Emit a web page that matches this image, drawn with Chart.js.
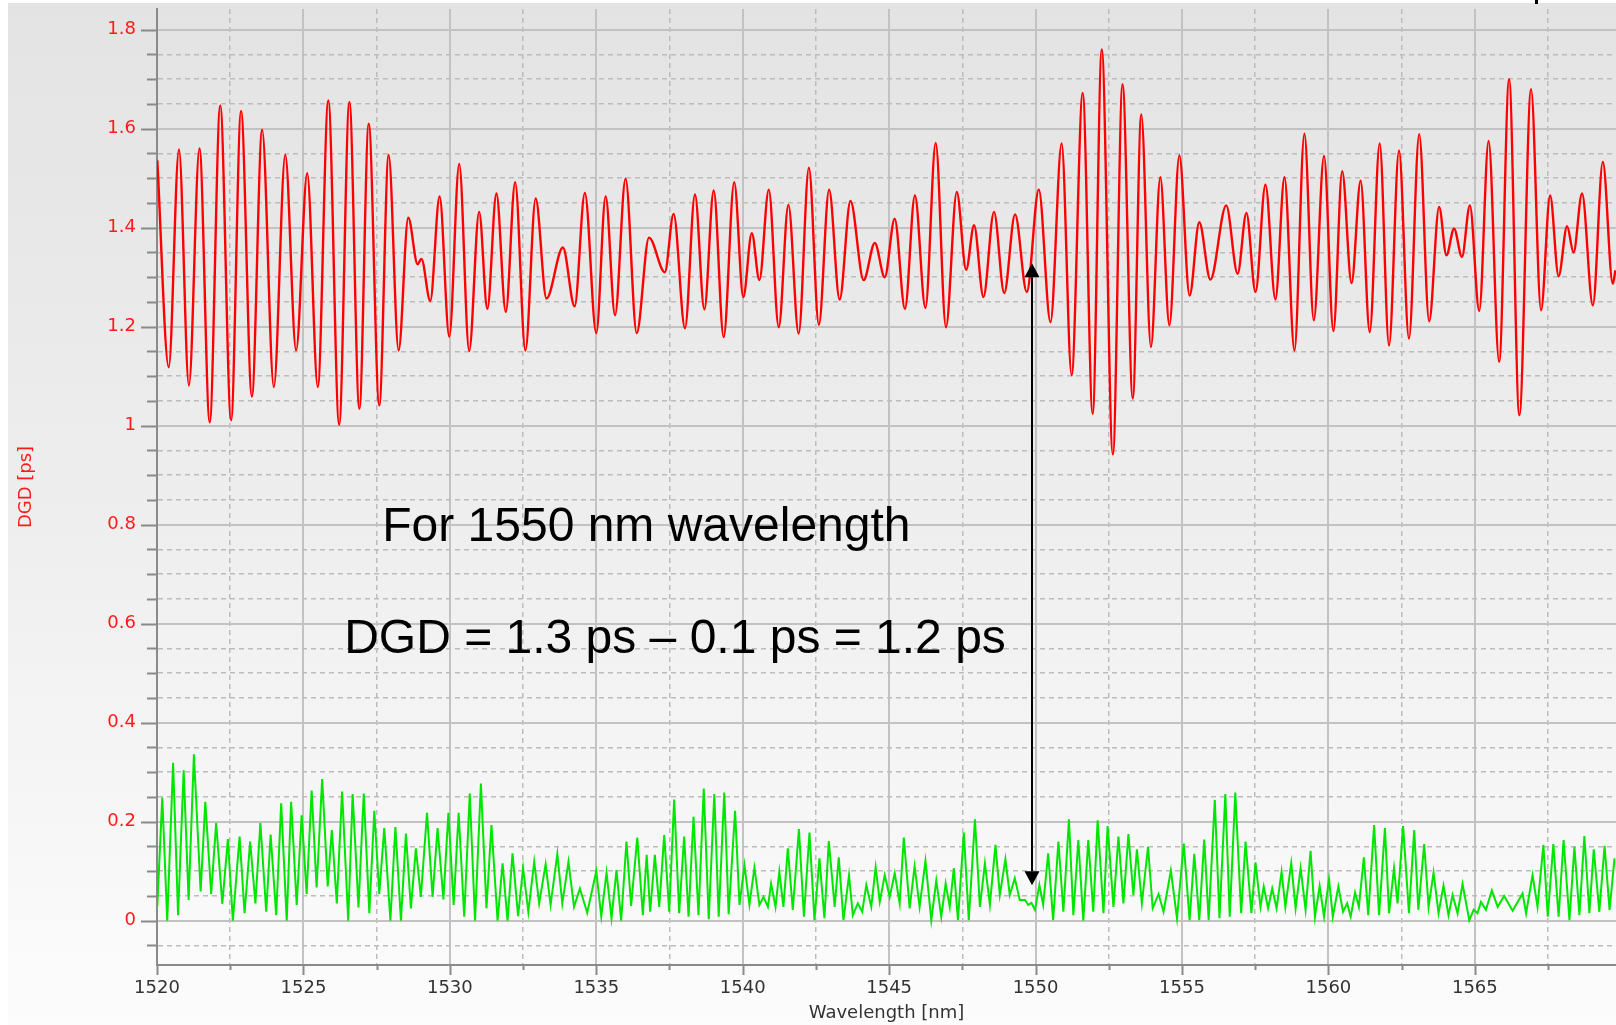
<!DOCTYPE html>
<html>
<head>
<meta charset="utf-8">
<title>DGD vs wavelength</title>
<script src="https://cdn.jsdelivr.net/npm/chart.js@4.4.0/dist/chart.umd.min.js"></script>
<style>
  body { margin: 0; background: #fff; }
  #dgdChart { display: block; }
</style>
</head>
<body>
<canvas id="dgdChart" width="1616" height="1025"></canvas>
<script>
// DGD trace, turning points only (wavelength nm / DGD ps)
const redNm = [1520.01,1520.40,1520.75,1521.09,1521.45,1521.80,1522.16,1522.53,1522.87,1523.24,
  1523.59,1523.99,1524.38,1524.75,1525.13,1525.49,1525.85,1526.22,1526.57,1526.91,
  1527.23,1527.59,1527.91,1528.25,1528.58,1528.90,1529.03,1529.33,1529.65,1529.98,
  1530.32,1530.66,1531.00,1531.28,1531.59,1531.91,1532.23,1532.58,1532.93,1533.30,
  1533.86,1534.26,1534.61,1535.00,1535.32,1535.64,1536.00,1536.38,1536.80,1537.34,
  1537.64,1538.03,1538.37,1538.69,1539.01,1539.35,1539.71,1540.02,1540.31,1540.57,
  1540.89,1541.23,1541.56,1541.91,1542.26,1542.60,1542.95,1543.31,1543.68,1544.13,
  1544.51,1544.85,1545.19,1545.54,1545.88,1546.24,1546.59,1546.94,1547.31,1547.63,
  1547.90,1548.22,1548.58,1548.93,1549.30,1549.70,1550.11,1550.51,1550.89,1551.23,
  1551.61,1551.95,1552.26,1552.64,1552.97,1553.32,1553.61,1553.94,1554.26,1554.57,
  1554.91,1555.26,1555.59,1555.97,1556.51,1556.90,1557.20,1557.51,1557.85,1558.19,
  1558.50,1558.84,1559.18,1559.50,1559.85,1560.17,1560.47,1560.79,1561.10,1561.41,
  1561.75,1562.07,1562.41,1562.75,1563.10,1563.44,1563.78,1564.03,1564.29,1564.56,
  1564.83,1565.15,1565.47,1565.83,1566.17,1566.52,1566.92,1567.26,1567.57,1567.86,
  1568.15,1568.37,1568.66,1569.03,1569.37,1569.71,1569.80];
const redDgd = [1.536,1.118,1.558,1.081,1.560,1.007,1.647,1.011,1.636,1.059,
  1.598,1.078,1.547,1.152,1.510,1.078,1.657,1.002,1.654,1.034,
  1.610,1.041,1.547,1.152,1.420,1.326,1.337,1.252,1.463,1.180,
  1.529,1.151,1.432,1.236,1.469,1.230,1.492,1.152,1.459,1.257,
  1.360,1.241,1.470,1.187,1.463,1.223,1.499,1.187,1.380,1.310,
  1.428,1.197,1.467,1.235,1.475,1.179,1.492,1.260,1.389,1.294,
  1.477,1.199,1.446,1.186,1.521,1.204,1.477,1.255,1.454,1.294,
  1.369,1.300,1.418,1.236,1.465,1.238,1.571,1.199,1.472,1.315,
  1.405,1.260,1.432,1.268,1.427,1.270,1.477,1.209,1.570,1.102,
  1.672,1.024,1.760,0.942,1.690,1.055,1.629,1.159,1.502,1.203,
  1.546,1.263,1.411,1.295,1.445,1.307,1.430,1.270,1.487,1.255,
  1.502,1.152,1.590,1.213,1.545,1.191,1.514,1.288,1.495,1.189,
  1.570,1.162,1.556,1.176,1.589,1.211,1.442,1.344,1.398,1.341,
  1.445,1.232,1.575,1.129,1.700,1.021,1.680,1.233,1.465,1.302,
  1.403,1.350,1.469,1.243,1.533,1.287,1.314];

// reference trace (green), turning points
const greenNm = [1520.01,1520.18,1520.35,1520.55,1520.72,1520.91,1521.08,1521.26,1521.49,1521.65,
  1521.85,1522.02,1522.23,1522.42,1522.59,1522.82,1522.99,1523.18,1523.36,1523.53,
  1523.73,1523.88,1524.07,1524.24,1524.43,1524.58,1524.77,1524.94,1525.11,1525.28,
  1525.45,1525.64,1525.83,1525.97,1526.14,1526.32,1526.53,1526.68,1526.88,1527.06,
  1527.25,1527.42,1527.59,1527.76,1527.97,1528.14,1528.33,1528.50,1528.67,1528.84,
  1529.01,1529.22,1529.41,1529.58,1529.78,1529.95,1530.13,1530.30,1530.49,1530.68,
  1530.86,1531.06,1531.25,1531.42,1531.63,1531.80,1531.97,1532.14,1532.33,1532.50,
  1532.68,1532.88,1533.05,1533.27,1533.44,1533.67,1533.84,1534.05,1534.24,1534.44,
  1534.69,1535.00,1535.17,1535.35,1535.52,1535.69,1535.85,1536.03,1536.19,1536.40,
  1536.59,1536.72,1536.84,1537.00,1537.15,1537.32,1537.49,1537.66,1537.83,1538.00,
  1538.15,1538.32,1538.49,1538.67,1538.84,1539.03,1539.18,1539.37,1539.52,1539.74,
  1539.89,1540.06,1540.23,1540.40,1540.57,1540.71,1540.86,1540.97,1541.12,1541.25,
  1541.39,1541.54,1541.71,1541.92,1542.09,1542.28,1542.45,1542.62,1542.79,1542.94,
  1543.14,1543.28,1543.44,1543.63,1543.76,1543.93,1544.08,1544.22,1544.39,1544.54,
  1544.68,1544.85,1545.02,1545.19,1545.36,1545.50,1545.70,1545.87,1546.04,1546.24,
  1546.44,1546.61,1546.78,1546.93,1547.07,1547.21,1547.35,1547.55,1547.72,1547.93,
  1548.10,1548.27,1548.44,1548.63,1548.78,1548.97,1549.12,1549.29,1549.46,1549.64,
  1549.75,1549.86,1549.98,1550.13,1550.26,1550.43,1550.60,1550.78,1550.95,1551.14,
  1551.29,1551.46,1551.63,1551.80,1551.97,1552.12,1552.32,1552.46,1552.66,1552.83,
  1553.00,1553.17,1553.34,1553.46,1553.63,1553.84,1554.00,1554.20,1554.37,1554.62,
  1554.83,1555.06,1555.26,1555.42,1555.59,1555.76,1555.91,1556.12,1556.28,1556.48,
  1556.63,1556.82,1557.02,1557.17,1557.37,1557.51,1557.68,1557.79,1557.94,1558.08,
  1558.23,1558.40,1558.53,1558.73,1558.88,1559.05,1559.22,1559.39,1559.54,1559.70,
  1559.85,1560.02,1560.15,1560.34,1560.50,1560.64,1560.76,1560.91,1561.04,1561.21,
  1561.36,1561.56,1561.73,1561.93,1562.07,1562.24,1562.36,1562.55,1562.75,1562.93,
  1563.07,1563.27,1563.42,1563.59,1563.76,1563.93,1564.10,1564.24,1564.41,1564.58,
  1564.81,1564.96,1565.09,1565.21,1565.38,1565.58,1565.78,1566.00,1566.29,1566.63,
  1566.75,1566.97,1567.14,1567.34,1567.49,1567.68,1567.86,1568.03,1568.23,1568.40,
  1568.57,1568.74,1568.91,1569.06,1569.25,1569.43,1569.60,1569.77];
const greenDgd = [0.030,0.249,0.000,0.319,0.011,0.304,0.042,0.336,0.059,0.240,
  0.054,0.197,0.034,0.165,0.000,0.170,0.015,0.160,0.035,0.197,
  0.018,0.174,0.011,0.237,0.000,0.240,0.032,0.213,0.054,0.263,
  0.067,0.286,0.069,0.183,0.035,0.261,0.000,0.256,0.027,0.257,
  0.015,0.222,0.054,0.187,0.000,0.189,0.000,0.176,0.025,0.146,
  0.048,0.218,0.048,0.187,0.043,0.218,0.032,0.218,0.008,0.257,
  0.000,0.277,0.025,0.193,0.000,0.116,0.000,0.136,0.009,0.106,
  0.018,0.119,0.035,0.114,0.032,0.135,0.035,0.119,0.028,0.065,
  0.016,0.100,0.009,0.097,0.005,0.102,0.000,0.160,0.030,0.168,
  0.011,0.133,0.018,0.133,0.028,0.173,0.018,0.245,0.015,0.170,
  0.008,0.210,0.011,0.267,0.003,0.256,0.008,0.259,0.013,0.222,
  0.032,0.112,0.032,0.107,0.032,0.048,0.028,0.075,0.028,0.099,
  0.028,0.146,0.022,0.185,0.008,0.178,0.001,0.126,0.005,0.161,
  0.028,0.128,0.001,0.092,0.011,0.035,0.018,0.072,0.028,0.108,
  0.038,0.092,0.048,0.096,0.035,0.168,0.025,0.110,0.028,0.121,
  0.001,0.081,0.008,0.075,0.028,0.106,0.001,0.178,0.001,0.205,
  0.028,0.116,0.032,0.153,0.052,0.124,0.052,0.086,0.042,0.042,
  0.032,0.036,0.022,0.072,0.032,0.136,0.001,0.160,0.018,0.205,
  0.011,0.163,0.000,0.163,0.018,0.203,0.015,0.191,0.028,0.170,
  0.035,0.175,0.052,0.144,0.035,0.149,0.025,0.054,0.018,0.101,
  0.005,0.156,0.001,0.135,0.001,0.164,0.001,0.244,0.005,0.256,
  0.008,0.259,0.015,0.160,0.015,0.118,0.028,0.069,0.025,0.065,
  0.025,0.099,0.028,0.116,0.025,0.106,0.022,0.141,0.008,0.070,
  0.008,0.084,0.008,0.069,0.018,0.035,0.008,0.057,0.028,0.128,
  0.011,0.193,0.011,0.187,0.015,0.106,0.035,0.191,0.015,0.183,
  0.022,0.155,0.028,0.097,0.015,0.071,0.011,0.052,0.015,0.074,
  0.001,0.022,0.015,0.038,0.022,0.061,0.028,0.050,0.020,0.055,
  0.015,0.092,0.028,0.153,0.008,0.155,0.008,0.163,0.001,0.149,
  0.011,0.171,0.015,0.144,0.018,0.151,0.022,0.126];

// labelled ticks
const xLabels = [1520, 1525, 1530, 1535, 1540, 1545, 1550, 1555, 1560, 1565];
const yLabels = [0, 0.2, 0.4, 0.6, 0.8, 1, 1.2, 1.4, 1.6, 1.8];

function isXMajor(v) { return xLabels.some(l => Math.abs(l - v) < 1e-6); }
function isYMajor(v) { return yLabels.some(l => Math.abs(l - v) < 1e-6); }

const bgPlugin = {
  id: 'bg',
  beforeDraw(chart) {
    const c = chart.ctx;
    c.save();
    c.fillStyle = '#ffffff';
    c.fillRect(0, 0, chart.width, chart.height);
    const g = c.createLinearGradient(0, 0, 0, chart.height);
    g.addColorStop(0, '#e3e3e3');
    g.addColorStop(0.5, '#eeeeee');
    g.addColorStop(1, '#fcfcfc');
    c.fillStyle = g;
    c.fillRect(8, 3, chart.width - 8, chart.height - 3);
    c.restore();
  }
};

// little tick marks outside the axes, long for labelled ones
const tickPlugin = {
  id: 'tickMarks',
  afterDraw(chart) {
    const c = chart.ctx, xs = chart.scales.x, ys = chart.scales.y;
    const a = chart.chartArea;
    c.save();
    c.strokeStyle = '#8a8a8a';
    c.lineWidth = 2;
    c.beginPath();
    ys.ticks.forEach(t => {
      const y = Math.round(ys.getPixelForValue(t.value)) + 0.5;
      const len = isYMajor(t.value) ? 16 : 10;
      c.moveTo(a.left - len, y);
      c.lineTo(a.left, y);
    });
    xs.ticks.forEach(t => {
      const x = Math.round(xs.getPixelForValue(t.value)) + 0.5;
      const len = isXMajor(t.value) ? 10 : 5;
      c.moveTo(x, a.bottom);
      c.lineTo(x, a.bottom + len);
    });
    c.stroke();
    c.restore();
  }
};

// text and the double arrow at 1550 nm
const notePlugin = {
  id: 'notes',
  afterDatasetsDraw(chart) {
    const c = chart.ctx, xs = chart.scales.x, ys = chart.scales.y;
    c.save();
    c.fillStyle = '#000';
    c.font = '48px "Liberation Sans", Arial, sans-serif';
    c.textAlign = 'left';
    c.textBaseline = 'alphabetic';
    c.fillText('For 1550 nm wavelength', xs.getPixelForValue(1527.69), ys.getPixelForValue(0.767));
    c.fillText('DGD = 1.3 ps \u2013 0.1 ps = 1.2 ps', xs.getPixelForValue(1526.39), ys.getPixelForValue(0.540));

    const ax = Math.round(xs.getPixelForValue(1549.89));
    const yTop = ys.getPixelForValue(1.3);
    const yBot = ys.getPixelForValue(0.1);
    c.strokeStyle = '#000';
    c.lineWidth = 2;
    c.beginPath();
    c.moveTo(ax, yTop);
    c.lineTo(ax, yBot);
    c.stroke();
    c.beginPath();
    c.moveTo(ax, yTop - 14);
    c.lineTo(ax - 7.5, yTop);
    c.lineTo(ax + 7.5, yTop);
    c.closePath();
    c.moveTo(ax, yBot + 14);
    c.lineTo(ax - 7.5, yBot);
    c.lineTo(ax + 7.5, yBot);
    c.closePath();
    c.fill();

    // stray marker at the top edge
    c.fillRect(1535, 0, 3, 4);
    c.restore();
  }
};

const ctx = document.getElementById('dgdChart').getContext('2d');
const dgdChart = new Chart(ctx, {
  type: 'line',
  data: {
    datasets: [{
      label: 'DGD',
      data: redNm.map((x, i) => ({ x: x, y: redDgd[i] })),
      borderColor: '#ff0000',
      borderWidth: 2.4,
      cubicInterpolationMode: 'monotone',
      pointRadius: 0
    }, {
      label: 'reference',
      data: greenNm.map((x, i) => ({ x: x, y: greenDgd[i] })),
      borderColor: '#00e600',
      borderWidth: 2,
      tension: 0,
      pointRadius: 0
    }]
  },
  options: {
    responsive: false,
    animation: false,
    devicePixelRatio: 1,
    layout: { padding: { top: 9, left: 0, right: 0, bottom: 0 } },
    plugins: { legend: { display: false }, tooltip: { enabled: false } },
    scales: {
      x: {
        type: 'linear',
        min: 1520,
        max: 1569.82,
        afterFit(s) { s.height = 60; s.paddingLeft = 0; s.paddingRight = 0; },
        ticks: {
          stepSize: 2.5,
          includeBounds: false,
          autoSkip: false,
          maxRotation: 0,
          padding: 13,
          color: '#333',
          font: { family: '"DejaVu Sans", sans-serif', size: 18 },
          callback: v => isXMajor(v) ? String(Math.round(v)) : ''
        },
        grid: {
          drawTicks: false,
          color: c => c.tick && isXMajor(c.tick.value) ? '#c2c2c2' : '#bcbcbc',
          lineWidth: c => c.tick && isXMajor(c.tick.value) ? 2 : 1.5
        },
        border: {
          display: true, color: '#8a8a8a', width: 2,
          dash: c => (c.tick && !isXMajor(c.tick.value)) ? [5, 4] : []
        },
        title: {
          display: true, text: 'Wavelength [nm]', color: '#333',
          font: { family: '"DejaVu Sans", sans-serif', size: 18 },
          padding: { top: 0, bottom: 1 }
        }
      },
      y: {
        min: -0.0895,
        max: 1.8418,
        afterFit(s) { s.width = 157; s.paddingTop = 0; s.paddingBottom = 0; },
        ticks: {
          stepSize: 0.05,
          includeBounds: false,
          autoSkip: false,
          padding: 21,
          color: '#ff1a1a',
          font: { family: '"DejaVu Sans", sans-serif', size: 18 },
          callback: v => isYMajor(v) ? String(parseFloat(v.toFixed(2))) : ''
        },
        grid: {
          drawTicks: false,
          color: c => c.tick && isYMajor(c.tick.value) ? '#c2c2c2' : '#bcbcbc',
          lineWidth: c => c.tick && isYMajor(c.tick.value) ? 2 : 1.5
        },
        border: {
          display: true, color: '#8a8a8a', width: 2,
          dash: c => (c.tick && !isYMajor(c.tick.value)) ? [5, 4] : []
        },
        title: {
          display: true, text: 'DGD [ps]', color: '#ff1a1a',
          font: { family: '"DejaVu Sans", sans-serif', size: 18 },
          padding: { top: 16, bottom: 0 }
        }
      }
    }
  },
  plugins: [bgPlugin, tickPlugin, notePlugin]
});
</script>
</body>
</html>
